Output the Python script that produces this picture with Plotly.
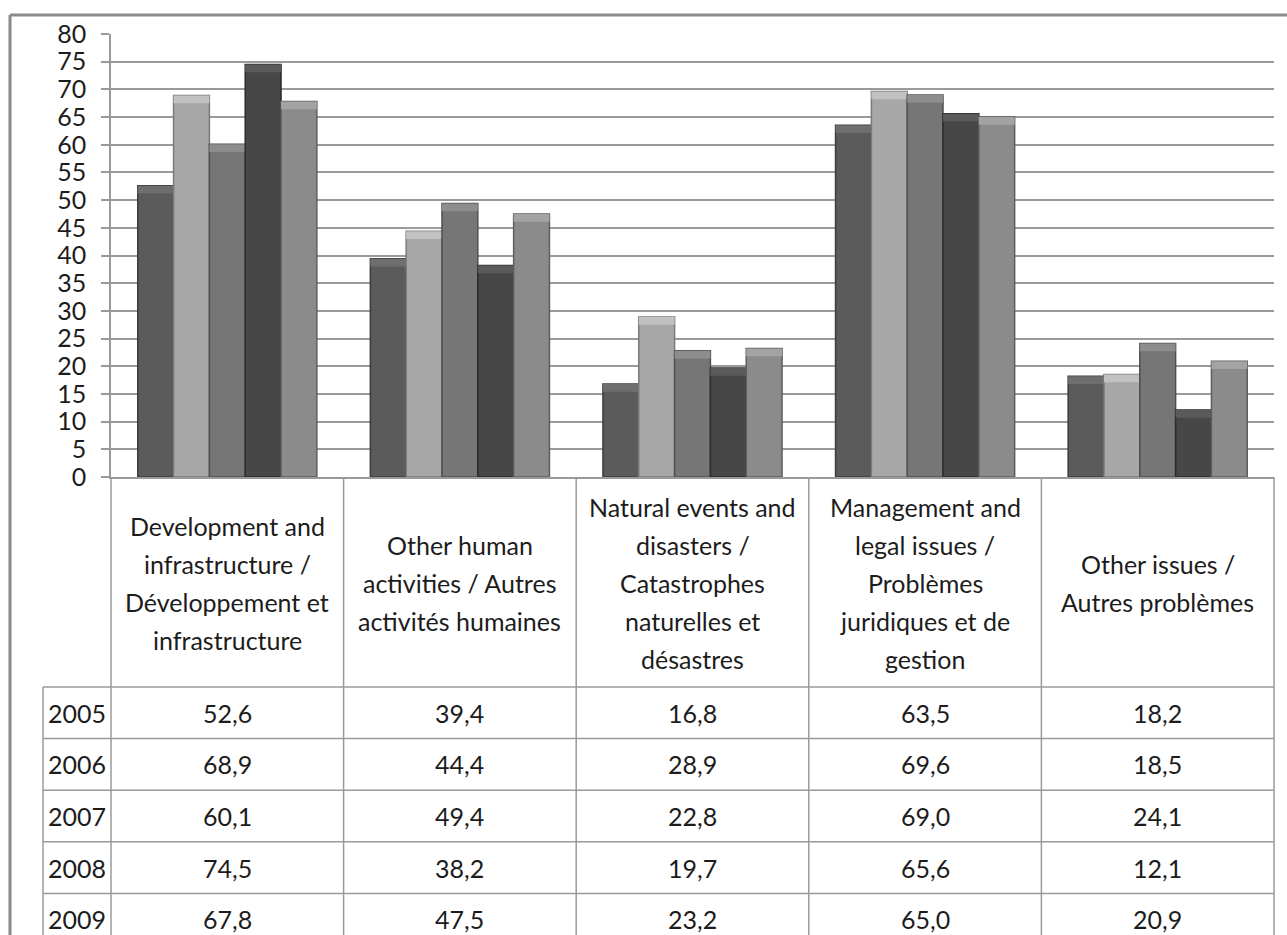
import plotly.graph_objects as go

# ---- data ----
categories = [
    ["Development and", "infrastructure /", "Développement et", "infrastructure"],
    ["Other human", "activities / Autres", "activités humaines"],
    ["Natural events and", "disasters /", "Catastrophes", "naturelles et", "désastres"],
    ["Management and", "legal issues /", "Problèmes", "juridiques et de", "gestion"],
    ["Other issues /", "Autres problèmes"],
]
years = ["2005", "2006", "2007", "2008", "2009"]
v2005 = [52.6, 39.4, 16.8, 63.5, 18.2]
v2006 = [68.9, 44.4, 28.9, 69.6, 18.5]
v2007 = [60.1, 49.4, 22.8, 69.0, 24.1]
v2008 = [74.5, 38.2, 19.7, 65.6, 12.1]
v2009 = [67.8, 47.5, 23.2, 65.0, 20.9]
series = [v2005, v2006, v2007, v2008, v2009]
y_ticks = list(range(0, 85, 5))

# ---- styling ----
bar_colors = ["#5b5b5b", "#a7a7a7", "#767676", "#474747", "#8b8b8b"]
edge_colors = ["#3c3c3c", "#7a7a7a", "#4f4f4f", "#2c2c2c", "#5e5e5e"]
cap_colors = ["#6e6e6e", "#c2c2c2", "#8d8d8d", "#5a5a5a", "#a3a3a3"]
FONT = "Lato"
FS = 25
TXT = "#1c1c1c"
GRID = "#9a9a9a"
BEVEL = 1.4  # depth of the bevelled cap, in axis units

W, H = 1287, 935
L, R, T, B = 111, 1274, 34, 477  # plot area in pixels


def px_x(x):
    return (x - L) / (R - L)


def px_y(y):
    return (B - y) / (B - T)


xcats = list(range(len(categories)))

fig = go.Figure()
for yr, vals, col, edge, cap in zip(years, series, bar_colors, edge_colors, cap_colors):
    fig.add_trace(go.Bar(
        x=xcats, y=vals, name=yr, offsetgroup=yr,
        marker=dict(color=col, line=dict(color=edge, width=1.5)),
        showlegend=False,
    ))
    # soft lighter band at the top of every bar (bevel look)
    fig.add_trace(go.Bar(
        x=xcats, y=[BEVEL] * len(vals), base=[v - BEVEL for v in vals],
        name=yr, offsetgroup=yr, hoverinfo="skip",
        marker=dict(color=cap, line=dict(color=edge, width=0)),
        showlegend=False,
    ))

shapes = []
annotations = []


def hline(y, x0, x1, color=GRID, width=1.5):
    shapes.append(dict(type="line", xref="paper", yref="paper",
                       x0=px_x(x0), x1=px_x(x1), y0=px_y(y), y1=px_y(y),
                       line=dict(color=color, width=width)))


def vline(x, y0, y1, color=GRID, width=1.5):
    shapes.append(dict(type="line", xref="paper", yref="paper",
                       x0=px_x(x), x1=px_x(x), y0=px_y(y0), y1=px_y(y1),
                       line=dict(color=color, width=width)))


# outer chart frame
hline(15, 10, W + 5, color="#8a8a8a", width=3)
vline(10, 15, H + 5, color="#8a8a8a", width=3)

# data table grid
ncat = len(categories)
col_w = (R - L) / ncat
header_bottom = 687
row_h = 51.6
label_left = 43
for i in range(ncat + 1):
    vline(L + i * col_w, B, H + 5)
vline(label_left, header_bottom, H + 5)
for r in range(len(years)):
    hline(header_bottom + r * row_h, label_left, R)

# header cells: each line placed separately to control line spacing
line_pitch = 38
header_mid = (B + header_bottom) / 2 + 1
for i, lines in enumerate(categories):
    cx = L + (i + 0.5) * col_w
    n = len(lines)
    for k, txt in enumerate(lines):
        cy = header_mid + (k - (n - 1) / 2) * line_pitch
        annotations.append(dict(xref="paper", yref="paper", x=px_x(cx), y=px_y(cy),
                                text=txt, showarrow=False, xanchor="center", yanchor="middle",
                                font=dict(family=FONT, size=FS, color=TXT)))

# value rows
for r, (yr, vals) in enumerate(zip(years, series)):
    cy = header_bottom + (r + 0.5) * row_h
    annotations.append(dict(xref="paper", yref="paper", x=px_x(46), y=px_y(cy),
                            text=yr, showarrow=False, xanchor="left", yanchor="middle",
                            font=dict(family=FONT, size=FS, color=TXT)))
    for i, v in enumerate(vals):
        cx = L + (i + 0.5) * col_w
        annotations.append(dict(xref="paper", yref="paper", x=px_x(cx), y=px_y(cy),
                                text=f"{v:.1f}".replace(".", ","), showarrow=False,
                                xanchor="center", yanchor="middle",
                                font=dict(family=FONT, size=FS, color=TXT)))

fig.update_layout(
    width=W, height=H,
    margin=dict(l=L, r=W - R, t=T, b=H - B, pad=0),
    paper_bgcolor="white", plot_bgcolor="white",
    barmode="group", bargap=0.23, bargroupgap=0,
    shapes=shapes, annotations=annotations,
    font=dict(family=FONT, color=TXT),
)
fig.update_xaxes(
    type="linear", range=[-0.5, ncat - 0.5], showticklabels=False,
    showgrid=False, zeroline=False, showline=True, linecolor=GRID, linewidth=1.5,
    ticks="",
)
fig.update_yaxes(
    range=[0, 80], tickvals=y_ticks, ticktext=[str(t) for t in y_ticks],
    showgrid=True, gridcolor=GRID, gridwidth=1.5,
    zeroline=False, showline=True, linecolor=GRID, linewidth=1.5,
    ticks="outside", ticklen=8, tickcolor=GRID, tickwidth=1.5,
    ticklabelstandoff=10,
    tickfont=dict(family=FONT, size=FS, color=TXT),
)

fig.write_html("out.html")
